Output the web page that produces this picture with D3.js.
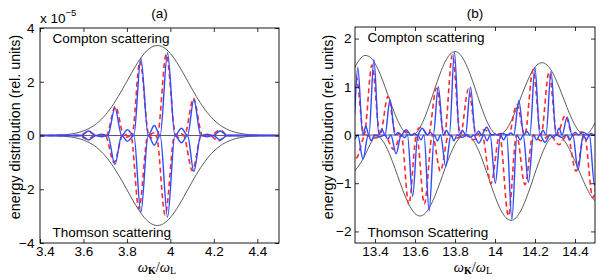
<!DOCTYPE html>
<html><head><meta charset="utf-8">
<script src="https://cdn.jsdelivr.net/npm/d3@7"></script>
<style>body{margin:0;background:#fff}svg text{font-family:"Liberation Sans",Arial,sans-serif;fill:#000}</style>
</head><body><svg id="c" width="599" height="280"></svg>
<script>
// ---------- Panel (a) data (units of 1e-5) ----------
const aXTicks = [3.4, 3.6, 3.8, 4.0, 4.2, 4.4];
const aXTickLabels = ["3.4", "3.6", "3.8", "4", "4.2", "4.4"];
const aYTicks = [-4, -2, 0, 2, 4];
const aYTickLabels = ["\u22124", "\u22122", "0", "2", "4"];

const aEnvX = [3.40,3.46,3.50,3.54,3.56,3.58,3.60,3.62,3.64,3.66,3.68,3.70,3.72,3.74,3.76,3.78,3.80,3.82,3.84,3.86,3.88,3.90,3.92,3.94,3.96,3.98,4.00,4.02,4.04,4.06,4.08,4.10,4.12,4.14,4.16,4.18,4.20,4.22,4.24,4.26,4.28,4.30,4.32,4.34,4.38,4.42,4.50];
const aEnvUpY = [0,0.009,0.022,0.053,0.080,0.117,0.168,0.237,0.326,0.440,0.583,0.754,0.957,1.190,1.448,1.727,2.017,2.308,2.586,2.839,3.052,3.214,3.316,3.35,3.316,3.214,3.052,2.839,2.586,2.308,2.017,1.727,1.448,1.190,0.957,0.754,0.583,0.440,0.326,0.237,0.168,0.117,0.080,0.053,0.022,0.009,0];
const aEnvLoY = [0,-0.009,-0.022,-0.053,-0.080,-0.117,-0.168,-0.237,-0.326,-0.440,-0.583,-0.754,-0.957,-1.190,-1.448,-1.727,-2.017,-2.308,-2.586,-2.839,-3.052,-3.214,-3.316,-3.35,-3.316,-3.214,-3.052,-2.839,-2.586,-2.308,-2.017,-1.727,-1.448,-1.190,-0.957,-0.754,-0.583,-0.440,-0.326,-0.237,-0.168,-0.117,-0.080,-0.053,-0.022,-0.009,0];

const aBlueX = [3.40,3.52,3.545,3.565,3.59,3.624,3.657,3.684,3.712,3.745,3.776,3.802,3.832,3.864,3.898,3.926,3.953,3.987,4.021,4.051,4.079,4.108,4.140,4.170,4.198,4.229,4.262,4.29,4.32,4.36,4.50];
const aBlueUpY = [0,0,0,0.015,0,0.17,0,0.05,0,1.02,0,0.22,0,2.88,0,0.37,0,3.08,0,0.27,0,1.33,0,0.05,0,0.17,0,0.015,0,0,0];
const aBlueLoY = [0,0,0,-0.015,0,-0.17,0,-0.05,0,-1.08,0,-0.22,0,-2.86,0,-0.36,0,-3.03,0,-0.27,0,-1.33,0,-0.05,0,-0.17,0,-0.015,0,0,0];

const aRedUpX = [3.40,3.56,3.58,3.622,3.662,3.686,3.705,3.747,3.787,3.805,3.823,3.860,3.902,3.922,3.940,3.981,4.025,4.046,4.065,4.106,4.148,4.168,4.185,4.226,4.268,4.30,4.50];
const aRedUpY = [0,0,0,0.14,0,0.03,0,1.08,0,0.06,0,2.76,0,0.10,0,3.02,0,0.08,0,1.38,0,0.03,0,0.20,0,0,0];
const aRedLoX = [3.40,3.555,3.575,3.617,3.657,3.681,3.70,3.741,3.781,3.80,3.818,3.855,3.897,3.917,3.935,3.976,4.02,4.041,4.06,4.101,4.143,4.163,4.18,4.221,4.263,4.30,4.50];
const aRedLoY = [0,0,0,-0.13,0,-0.03,0,-1.0,0,-0.06,0,-2.72,0,-0.10,0,-2.95,0,-0.08,0,-1.30,0,-0.03,0,-0.20,0,0,0];

// ---------- Panel (b) data ----------
const bXTicks = [13.4, 13.6, 13.8, 14.0, 14.2, 14.4];
const bXTickLabels = ["13.4", "13.6", "13.8", "14", "14.2", "14.4"];
const bYTicks = [-2, -1, 0, 1, 2];
const bYTickLabels = ["\u22122", "\u22121", "0", "1", "2"];

const bEnvUpX = [13.275,13.30,13.325,13.35,13.375,13.40,13.425,13.45,13.475,13.50,13.525,13.55,13.575,13.60,13.625,13.65,13.675,13.70,13.725,13.75,13.775,13.80,13.825,13.85,13.875,13.90,13.925,13.95,13.975,14.00,14.017,14.035,14.06,14.085,14.11,14.135,14.16,14.185,14.21,14.235,14.26,14.285,14.31,14.335,14.36,14.385,14.41,14.435,14.452,14.475,14.50];
const bEnvUpY = [1.17,1.408,1.575,1.65,1.617,1.486,1.271,1.0,0.708,0.431,0.202,0.052,0,0.026,0.155,0.377,0.660,0.971,1.268,1.513,1.674,1.73,1.674,1.513,1.268,0.971,0.660,0.377,0.155,0.026,0,0.023,0.134,0.327,0.573,0.842,1.10,1.312,1.452,1.50,1.452,1.312,1.10,0.842,0.573,0.327,0.134,0.023,0,0.08,0.25];
const bEnvLoX = [13.275,13.30,13.325,13.35,13.375,13.41,13.425,13.45,13.475,13.50,13.525,13.55,13.575,13.60,13.625,13.65,13.675,13.70,13.725,13.75,13.775,13.80,13.825,13.85,13.88,13.905,13.93,13.955,13.98,14.005,14.03,14.055,14.08,14.105,14.13,14.155,14.18,14.205,14.23,14.255,14.28,14.305,14.33,14.355,14.38,14.405,14.43,14.455,14.48,14.505];
const bEnvLoY = [-0.9,-0.74,-0.6,-0.42,-0.2,0,-0.051,-0.197,-0.42,-0.694,-0.986,-1.26,-1.483,-1.629,-1.68,-1.629,-1.483,-1.26,-0.986,-0.694,-0.42,-0.197,-0.051,0,-0.053,-0.207,-0.4425,-0.731,-1.039,-1.3275,-1.563,-1.717,-1.77,-1.717,-1.563,-1.3275,-1.039,-0.731,-0.4425,-0.207,-0.053,0,-0.043,-0.167,-0.3575,-0.591,-0.839,-1.0725,-1.263,-1.387];

const bBlueUpX = [13.25,13.259,13.274,13.289,13.314,13.339,13.354,13.3695,13.3945,13.4195,13.435,13.450,13.475,13.500,13.515,13.5305,13.5555,13.5805,13.596,13.611,13.636,13.661,13.676,13.6915,13.7165,13.7415,13.757,13.772,13.797,13.822,13.837,13.8525,13.8775,13.9025,13.918,13.933,13.958,13.983,13.998,14.0135,14.0385,14.0635,14.079,14.094,14.119,14.144,14.159,14.1745,14.1995,14.2245,14.24,14.255,14.28,14.305,14.32,14.3355,14.3605,14.3855,14.401,14.416,14.441,14.466,14.481,14.496,14.52];
const bBlueUpY = [0,0,0.10,0,1.40,0,0.18,0,1.56,0,0.12,0,0.73,0,0.05,0,0.11,0,0.02,0,0.14,0,0.06,0,1.00,0,0.10,0,1.72,0,0.10,0,0.99,0,0.08,0,0.16,0,0.02,0,0.03,0,0.04,0,0.71,0,0.08,0,1.40,0,0.10,0,1.32,0,0.14,0,0.37,0,0.06,0,0.06,0,0.03,0,0];

const bBlueLoX = [13.27,13.2987,13.314,13.340,13.366,13.3814,13.3967,13.4227,13.4487,13.464,13.4794,13.5054,13.5314,13.547,13.5621,13.5881,13.6141,13.629,13.6448,13.6708,13.6968,13.712,13.7275,13.7535,13.7795,13.795,13.8102,13.8362,13.8622,13.878,13.8929,13.9189,13.9449,13.960,13.9756,14.0016,14.0276,14.043,14.0583,14.0843,14.1103,14.126,14.141,14.167,14.193,14.208,14.2237,14.2497,14.2757,14.291,14.3064,14.3324,14.3584,14.374,14.3891,14.4151,14.4411,14.457,14.4718,14.4978,14.52];
const bBlueLoY = [0,-0.08,0,-0.50,0,-0.12,0,-0.04,0,-0.08,0,-0.39,0,-0.06,0,-1.27,0,-0.10,0,-1.57,0,-0.12,0,-0.65,0,-0.12,0,-0.05,0,-0.05,0,-0.17,0,-0.12,0,-1.00,0,-0.10,0,-1.75,0,-0.10,0,-0.98,0,-0.10,0,-0.15,0,-0.06,0,-0.05,0,-0.10,0,-0.72,0,-0.10,0,-1.05,0];

const bRedUpX = [13.26,13.305,13.345,13.385,13.425,13.465,13.505,13.545,13.586,13.627,13.667,13.707,13.747,13.787,13.827,13.867,13.907,13.948,13.988,14.028,14.068,14.109,14.149,14.19,14.23,14.27,14.31,14.35,14.39,14.43,14.47,14.51];
const bRedUpY = [0,1.22,0,1.45,0,0.80,0,0.08,0,0.16,0,0.97,0,1.66,0,0.95,0,0.11,0,0.03,0,0.63,0,1.35,0,1.30,0,0.40,0,0.06,0,0];
const bRedLoX = [13.26,13.305,13.352,13.40,13.447,13.494,13.531,13.569,13.608,13.647,13.687,13.727,13.768,13.81,13.85,13.89,13.935,13.98,14.023,14.067,14.108,14.15,14.19,14.23,14.275,14.32,14.362,14.405,14.447,14.489,14.53];
const bRedLoY = [0,-0.48,0,-0.06,0,-0.30,0,-1.44,0,-1.43,0,-0.75,0,-0.06,0,-0.10,0,-1.01,0,-1.68,0,-1.03,0,-0.12,0,-0.20,0,-0.75,0,-1.30,0];

// ---------- drawing ----------
const svg = d3.select("#c");
const zip = (xs, ys) => xs.map((v, i) => [v, ys[i]]);

function panel(cfg) {
  const x = d3.scaleLinear().domain(cfg.xDomain).range([cfg.left, cfg.right]);
  const y = d3.scaleLinear().domain(cfg.yDomain).range([cfg.bottom, cfg.top]);
  const g = svg.append("g");
  const clipId = "clip" + cfg.id;
  svg.append("clipPath").attr("id", clipId).append("rect")
    .attr("x", cfg.left).attr("y", cfg.top)
    .attr("width", cfg.right - cfg.left).attr("height", cfg.bottom - cfg.top);
  const plot = g.append("g").attr("clip-path", `url(#${clipId})`);
  const line = d3.line().x(d => x(d[0])).y(d => y(d[1])).curve(d3.curveMonotoneX);

  plot.append("line").attr("x1", cfg.left).attr("x2", cfg.right)
    .attr("y1", y(0)).attr("y2", y(0)).attr("stroke", "#333").attr("stroke-width", 0.8);
  cfg.env.forEach(s => plot.append("path").attr("d", line(s)).attr("fill", "none")
    .attr("stroke", "#333").attr("stroke-width", 0.8));
  cfg.red.forEach(s => plot.append("path").attr("d", line(s)).attr("fill", "none")
    .attr("stroke", "#ff2b2b").attr("stroke-width", 1.6).attr("stroke-dasharray", "5,3.5"));
  cfg.blue.forEach(s => plot.append("path").attr("d", line(s)).attr("fill", "none")
    .attr("stroke", "#2f4bff").attr("stroke-width", 1.4));

  const fmtX = d => cfg.xLabels[cfg.xTicks.findIndex(t => Math.abs(t - d) < 1e-9)];
  const fmtY = d => cfg.yLabels[cfg.yTicks.findIndex(t => Math.abs(t - d) < 1e-9)];
  const xAxisG = g.append("g").attr("transform", `translate(0,${cfg.bottom})`)
      .call(d3.axisBottom(x).tickValues(cfg.xTicks).tickFormat(fmtX).tickSizeInner(-4).tickSizeOuter(0).tickPadding(3.2));
  const ax = [
    xAxisG,
    g.append("g").attr("transform", `translate(0,${cfg.top})`)
      .call(d3.axisTop(x).tickValues(cfg.xTicks).tickFormat("").tickSizeInner(-4).tickSizeOuter(0)),
    g.append("g").attr("transform", `translate(${cfg.left},0)`)
      .call(d3.axisLeft(y).tickValues(cfg.yTicks).tickFormat(fmtY).tickSizeInner(-4).tickSizeOuter(0).tickPadding(cfg.yPad)),
    g.append("g").attr("transform", `translate(${cfg.right},0)`)
      .call(d3.axisRight(y).tickValues(cfg.yTicks).tickFormat("").tickSizeInner(-4).tickSizeOuter(0))
  ];
  ax.forEach(a => {
    a.select(".domain").remove();
    a.selectAll("line").attr("stroke", "#000").attr("stroke-width", 0.8);
    a.selectAll("text").attr("font-size", 13.5).attr("font-family", '"Liberation Sans", Arial, sans-serif');
  });
  if (cfg.firstXShift) {
    xAxisG.selectAll(".tick text").filter((d, i) => i === 0).attr("dx", cfg.firstXShift);
  }
  g.append("rect").attr("x", cfg.left).attr("y", cfg.top)
    .attr("width", cfg.right - cfg.left).attr("height", cfg.bottom - cfg.top)
    .attr("fill", "none").attr("stroke", "#000").attr("stroke-width", 0.9);

  g.append("text").attr("x", (cfg.left + cfg.right) / 2).attr("y", 18)
    .attr("text-anchor", "middle").attr("font-size", 13.5).text(cfg.title);
  g.append("text").attr("x", cfg.left + 12.5).attr("y", cfg.top + 14.5)
    .attr("font-size", 13.5).text(cfg.topText);
  g.append("text").attr("x", cfg.left + 12.5).attr("y", cfg.bottom - 6)
    .attr("font-size", 13.5).text(cfg.botText);
  g.append("text").attr("transform", `translate(${cfg.yLabX},127) rotate(-90)`)
    .attr("text-anchor", "middle").attr("font-size", 14.3).text("energy distribution (rel. units)");
  const serif = '"Liberation Serif","DejaVu Serif",serif';
  const xl = g.append("text").attr("x", cfg.xLabX).attr("y", 271.5).attr("text-anchor", "middle")
    .attr("font-family", serif).attr("font-size", 14.5);
  xl.append("tspan").attr("font-style", "italic").attr("font-family", serif).text("\u03C9");
  xl.append("tspan").attr("font-weight", "bold").attr("font-size", 10).attr("dy", 2.5).attr("font-family", serif).text("K");
  xl.append("tspan").attr("dy", -2.5).attr("font-family", serif).text("/");
  xl.append("tspan").attr("font-style", "italic").attr("font-family", serif).text("\u03C9");
  xl.append("tspan").attr("font-size", 10).attr("dy", 2.5).attr("font-family", serif).text("L");
  return g;
}

const ga = panel({
  id: "a", left: 40, right: 279, top: 28, bottom: 243,
  xDomain: [3.4, 4.5], yDomain: [-4, 4],
  xTicks: aXTicks, xLabels: aXTickLabels, yTicks: aYTicks, yLabels: aYTickLabels, yPad: 5.5,
  firstXShift: 5,
  env: [zip(aEnvX, aEnvUpY), zip(aEnvX, aEnvLoY)],
  red: [zip(aRedUpX, aRedUpY), zip(aRedLoX, aRedLoY)],
  blue: [zip(aBlueX, aBlueUpY), zip(aBlueX, aBlueLoY)],
  title: "(a)", topText: "Compton scattering", botText: "Thomson scattering",
  yLabX: 20, xLabX: 157
});
const ex = ga.append("text").attr("x", 40).attr("y", 23).attr("font-size", 13.5);
ex.append("tspan").text("x 10");
ex.append("tspan").attr("dy", -7).attr("font-size", 9.5).text("\u22125");

panel({
  id: "b", left: 355, right: 595, top: 27, bottom: 243,
  xDomain: [13.3, 14.5], yDomain: [-2.24, 2.24],
  xTicks: bXTicks, xLabels: bXTickLabels, yTicks: bYTicks, yLabels: bYTickLabels, yPad: 3.5,
  env: [zip(bEnvUpX, bEnvUpY), zip(bEnvLoX, bEnvLoY)],
  red: [zip(bRedUpX, bRedUpY), zip(bRedLoX, bRedLoY)],
  blue: [zip(bBlueUpX, bBlueUpY), zip(bBlueLoX, bBlueLoY)],
  title: "(b)", topText: "Compton scattering", botText: "Thomson Scattering",
  yLabX: 333, xLabX: 473
});
</script></body></html>
